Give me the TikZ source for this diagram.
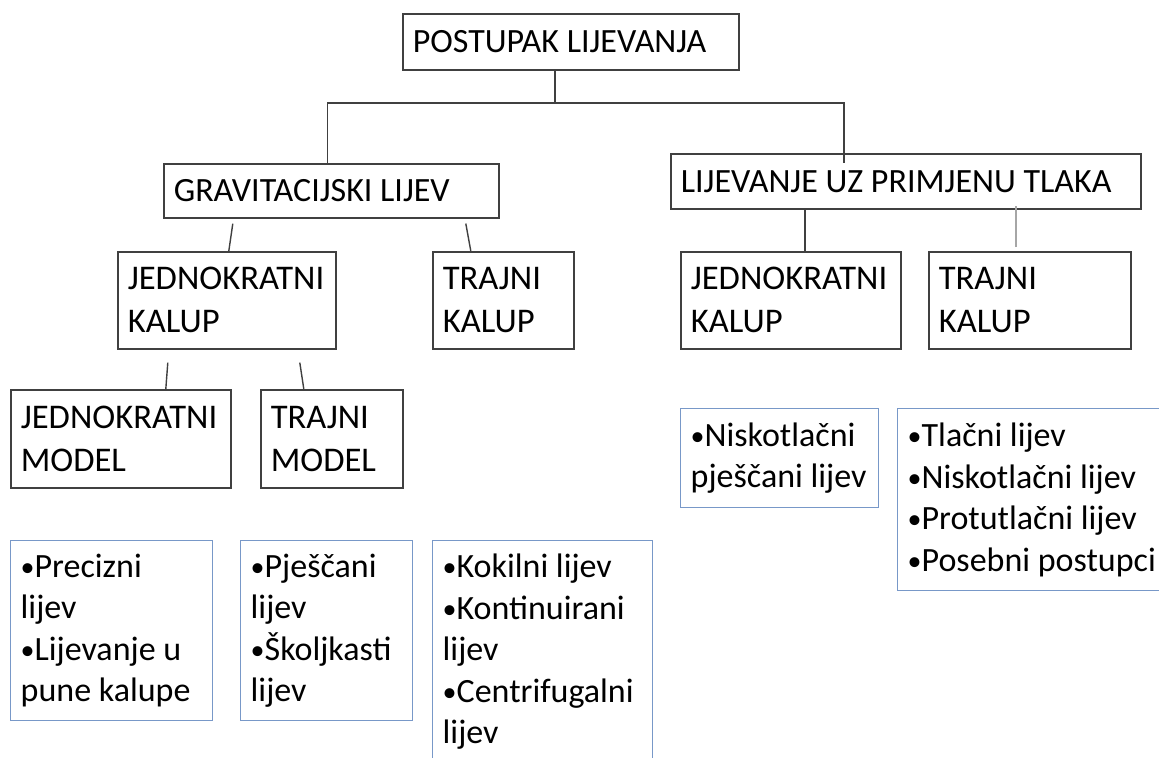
\documentclass[tikz,border=0pt]{standalone}
\usepackage{fontspec}
\setmainfont{Carlito}
\definecolor{okvirplavi}{RGB}{120,152,200}
\definecolor{okvirsivi}{RGB}{64,64,64}
\newcommand\tocka{{\fontsize{14}{14}\selectfont\raisebox{0.05ex}{•}}}
\tikzset{
  kutija/.style={draw=okvirsivi,line width=0.8pt,anchor=north west,align=flush left,inner xsep=5pt,inner ysep=2pt},
  popis/.style={draw=okvirplavi,line width=0.7pt,anchor=north west,align=flush left,inner xsep=5pt,inner ysep=4pt},
  veza/.style={draw=okvirsivi,line width=0.7pt},
  naslov/.style={font=\fontsize{17}{20}\selectfont},
  vrsta/.style={font=\fontsize{17.3}{21.5}\selectfont},
  stavka/.style={font=\fontsize{17}{20.75}\selectfont},
}
\begin{document}
\begin{tikzpicture}[x=0.5pt,y=-0.5pt]
\clip (0,0) rectangle (1159,757);
\fill[white] (0,0) rectangle (1159,757);
% crni okviri
\foreach \n/\x/\y/\w/\h/\s/\t in {
  post/402/13/336/56/naslov/{POSTUPAK LIJEVANJA},
  grav/163/163/335/54/naslov/{GRAVITACIJSKI LIJEV},
  tlak/670/153/470/55/naslov/{LIJEVANJE UZ PRIMJENU TLAKA},
  gjk/117/251/218/97/vrsta/{JEDNOKRATNI\\KALUP},
  gtk/432/251/141/97/vrsta/{TRAJNI\\KALUP},
  tjk/680/251/220/97/vrsta/{JEDNOKRATNI\\KALUP},
  ttk/928/251/202/97/vrsta/{TRAJNI\\KALUP},
  jmod/10/389/220/98/vrsta/{JEDNOKRATNI\\MODEL},
  tmod/260/389/142/98/vrsta/{TRAJNI\\MODEL}
}{
  \pgfmathsetmacro\tw{(\w-20)*0.5}
  \pgfmathsetmacro\mh{\h*0.5}
  \node[kutija,\s,text width=\tw pt,minimum height=\mh pt] (\n) at (\x,\y) {\t};
}
% plavi okviri s popisima
\foreach \n/\x/\y/\w/\h/\t in {
  pre/10/540/202/180/{\tocka Precizni\\lijev\\\tocka Lijevanje u\\pune kalupe},
  pje/240/540/172/180/{\tocka Pješčani\\lijev\\\tocka Školjkasti\\lijev},
  kok/432/540/220/222/{\tocka Kokilni lijev\\\tocka Kontinuirani\\lijev\\\tocka Centrifugalni\\lijev},
  nis/680/408/198/99/{\tocka Niskotlačni\\pješčani lijev},
  tla/897/408/290/182/{\tocka Tlačni lijev\\\tocka Niskotlačni lijev\\\tocka Protutlačni lijev\\\tocka Posebni postupci}
}{
  \pgfmathsetmacro\tw{(\w-20)*0.5}
  \pgfmathsetmacro\mh{\h*0.5}
  \node[popis,stavka,text width=\tw pt,minimum height=\mh pt] (\n) at (\x,\y) {\t};
}
% veze
\coordinate (grana) at (555,103);
\draw[veza] (post.south -| grana) -- (grana);
\draw[veza] (grana) -| ([xshift=-2pt]grav.north);
\draw[veza] (grana) -| ([xshift=-31pt,yshift=-5pt]tlak.north);
\draw[veza] ([xshift=-49.25pt,yshift=-2.5pt]grav.south) -- ([xshift=1pt]gjk.north);
\draw[veza] ([xshift=67.25pt,yshift=-2.5pt]grav.south) -- ([xshift=-16.25pt]gtk.north);
\draw[veza] ([xshift=7pt]tjk.north) -- ([xshift=7pt]tjk.north |- tlak.south);
\draw[veza,draw=gray!70] ([xshift=-7pt,yshift=2pt]ttk.north) -- ([xshift=-7pt,yshift=2pt]ttk.north |- tlak.south);
\draw[veza] ([xshift=-29.5pt,yshift=-6.5pt]gjk.south) -- ([xshift=22.5pt]jmod.north);
\draw[veza] ([xshift=36.5pt,yshift=-6.5pt]gjk.south) -- ([xshift=-14pt]tmod.north);
\end{tikzpicture}
\end{document}
